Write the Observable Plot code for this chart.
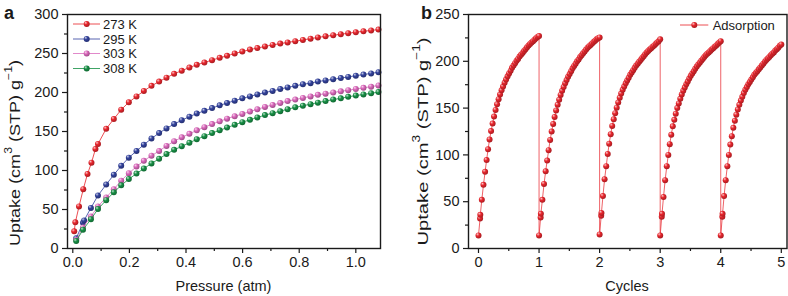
<!DOCTYPE html>
<html>
<head>
<meta charset="utf-8">
<script src="https://cdn.jsdelivr.net/npm/d3@7"></script>
<script src="https://cdn.jsdelivr.net/npm/@observablehq/plot@0.6"></script>
<style>
html, body { margin: 0; padding: 0; background: #fff; }
#fig { position: relative; width: 788px; height: 296px; overflow: hidden; }
#fig svg { position: absolute; top: 0; }
</style>
</head>
<body>
<div id="fig"></div>
<script>
// ---------------- Panel a: CO2 isotherms ----------------
const pressureGrid = [0.118, 0.145, 0.171, 0.198, 0.225, 0.251, 0.278, 0.305, 0.331, 0.358,
  0.385, 0.412, 0.438, 0.465, 0.492, 0.519, 0.545, 0.572, 0.599, 0.626,
  0.652, 0.679, 0.706, 0.733, 0.759, 0.786, 0.813, 0.840, 0.866, 0.893,
  0.920, 0.947, 0.973, 1.000, 1.027, 1.054, 1.080];

const pressureLow273 = [0.005, 0.009, 0.022, 0.037, 0.052, 0.066, 0.080, 0.089];
const uptake273 = [22, 33.5, 54, 76, 95.5, 110, 127.5, 134,
  153.5, 166, 178, 187.5, 195, 202, 208.5, 214,
  219, 224, 228, 232, 235.5, 238.5, 241.5, 244.5, 247, 250,
  252.5, 255, 257, 259, 261, 262.7, 264.2, 265.8, 267.4, 269,
  270.6, 272, 273.4, 274.7, 276, 277.3, 278.5, 279.6, 280.7];

const pressureLow295 = [0.012, 0.036, 0.040, 0.064, 0.089];
const uptake295 = [13, 33, 36, 52, 68,
  82, 94.5, 106, 116.5, 125, 133, 141, 148,
  154, 159.5, 164.5, 169, 173, 176.5, 180, 183.5, 186.5, 189.5,
  192.5, 195, 197.5, 200, 202, 204.5, 206.5, 208.5, 210.5, 212,
  214, 215.5, 217, 218.5, 220, 221.5, 223, 224.5, 226];

const pressureLow303 = [0.012, 0.036, 0.064, 0.089];
const uptake303 = [11, 27, 41, 54,
  65.5, 76, 87, 96.5, 105, 112.5, 119, 125,
  131.5, 137.5, 142.5, 147, 151.5, 155.5, 159.5, 163, 166.5, 169.5,
  172.5, 175.5, 178.5, 181.5, 184, 186.5, 189, 191, 193, 195,
  197, 198.5, 200, 201.5, 203, 204.5, 206, 207.5, 209];

const pressureLow308 = [0.012, 0.036, 0.064, 0.089];
const uptake308 = [9.5, 24, 37.5, 50.5,
  62, 72, 81, 89, 96, 102.5, 109, 115,
  121, 126.5, 131, 135.5, 140, 144, 148, 151.5, 155, 158.5,
  162, 165, 168, 171, 173.5, 176, 178.5, 181, 183, 185,
  187, 189, 191, 192.5, 194.5, 196, 197.5, 199, 200.5];

const seriesLabels = ["273 K", "295 K", "303 K", "308 K"];
const pressureTicks = [0, 0.2, 0.4, 0.6, 0.8, 1.0];
const pressureMinor = [0.1, 0.3, 0.5, 0.7, 0.9];
const uptakeTicksA = [0, 50, 100, 150, 200, 250, 300];
const uptakeMinorA = [25, 75, 125, 175, 225, 275];

// ---------------- Panel b: adsorption cycles ----------------
const cycleFraction = [0, 0.026, 0.030, 0.055, 0.082,
  0.109, 0.134, 0.158, 0.183, 0.208, 0.233, 0.257, 0.282, 0.307, 0.332,
  0.356, 0.381, 0.406, 0.431, 0.455, 0.480, 0.505, 0.530, 0.554, 0.579,
  0.604, 0.629, 0.653, 0.678, 0.703, 0.728, 0.752, 0.777, 0.802, 0.827,
  0.851, 0.876, 0.901, 0.926, 0.950, 0.975, 1.000];

const cycle1 = [14, 32, 36, 52, 68, 82, 94.5, 106, 116.5, 125.5,
  133.5, 141, 148, 154, 159.5, 164.5, 169, 173, 177, 180.5,
  184, 187, 190, 193, 195.5, 198, 200.5, 202.5, 205, 207,
  209, 211, 213, 215, 217, 218.5, 220, 221.5, 223, 224.5, 226, 227];
const cycle2 = [14, 33, 37, 52, 69, 82.5, 94, 105, 116, 125,
  133, 140.5, 147.5, 153.5, 159, 164, 168.5, 172.5, 176.5, 180,
  183.5, 186.5, 189.5, 192.5, 195, 197.5, 200, 202, 204.5, 206.5,
  208.5, 210.5, 212.5, 214.5, 216, 217.5, 219, 220.5, 222, 223.5, 224.5, 225.5];
const cycle3 = [15, 35, 38, 56, 74, 88, 101, 112, 122, 131,
  138, 144.5, 150.5, 156, 161, 165.5, 169.5, 173, 176.5, 179.5,
  182.5, 185.5, 188, 190.5, 193, 195.5, 197.5, 199.5, 201.5, 203.5,
  205.5, 207.5, 209.5, 211, 212.5, 214, 215.5, 217, 218.5, 220, 221.5, 223.5];
const cycle4 = [14, 34, 37, 55, 73, 88, 100, 111.5, 121.5, 130.5,
  137.5, 144, 150, 155, 160, 164.5, 168.5, 172, 175.5, 178.5,
  181.5, 184.5, 187, 189.5, 192, 194.5, 196.5, 198.5, 200.5, 202.5,
  204.5, 206.5, 208, 209.5, 211, 212.5, 214, 215.5, 217, 218.5, 220, 221.5];
const cycle5 = [14, 34, 37, 56, 73, 88, 100, 111, 120, 129,
  136.5, 143, 148.5, 153.5, 158, 162, 166, 169.5, 172.5, 175.5,
  178, 180.5, 183, 185.5, 187.5, 189.5, 191.5, 193.5, 195.5, 197.5,
  199.5, 201.5, 203, 204.5, 206.5, 208, 209.5, 211.5, 213, 214.5, 216.5, 218];

const cycleTicks = [0, 1, 2, 3, 4, 5];
const cycleMinor = [0.5, 1.5, 2.5, 3.5, 4.5];
const uptakeTicksB = [0, 50, 100, 150, 200, 250];
const uptakeMinorB = [25, 75, 125, 175, 225];
const legendB = "Adsorption";

// ---------------- styling ----------------
const FONT = '"Liberation Sans", Arial, Helvetica, sans-serif';
const INK = "#1a1a1a";
const COLORS = {r: "#e8262d", b: "#33429c", p: "#da68bb", g: "#178f45"};
const LINE_COLORS = {r: "#ea3a40", b: "#4554a8", p: "#de7cc4", g: "#2a9a55"};

function sphereDefs(prefix) {
  return () => {
    const defs = d3.create("svg:defs");
    for (const [k, c] of Object.entries(COLORS)) {
      const g = defs.append("radialGradient").attr("id", prefix + k)
        .attr("cx", "40%").attr("cy", "38%").attr("r", "62%")
        .attr("fx", "32%").attr("fy", "28%");
      g.append("stop").attr("offset", "0%").attr("stop-color", d3.interpolateRgb(c, "#ffffff")(0.75));
      g.append("stop").attr("offset", "45%").attr("stop-color", c);
      g.append("stop").attr("offset", "100%").attr("stop-color", d3.color(c).darker(0.9).formatHex());
    }
    return defs.node();
  };
}

function overlay(draw) {
  return (index, scales, values, dims) => {
    const g = d3.create("svg:g").attr("font-family", FONT).attr("fill", INK).attr("text-anchor", "start");
    draw(g, dims);
    return g.node();
  };
}

function uptakeTitle(g, cx, cy, size, len) {
  const t = g.append("text")
    .attr("transform", `translate(${cx},${cy}) rotate(-90)`)
    .attr("text-anchor", "middle").attr("dominant-baseline", "central")
    .attr("font-size", size);
  if (len) t.attr("textLength", len).attr("lengthAdjust", "spacingAndGlyphs");
  t.append("tspan").text("Uptake (cm");
  t.append("tspan").attr("baseline-shift", "super").attr("font-size", size * 0.68).text("3");
  t.append("tspan").text(" (STP) g");
  t.append("tspan").attr("baseline-shift", "super").attr("font-size", size * 0.68).text("\u22121");
  t.append("tspan").text(")");
}

function axesMarks(xt, xm, yt, ym, xfmt) {
  return [
    Plot.axisX(xt, {tickSize: 5, tickPadding: 3, tickFormat: xfmt, label: null, strokeWidth: 1.2, fontSize: 14.5}),
    Plot.axisX(xm, {tickSize: 3, tickFormat: () => "", label: null, strokeWidth: 1.2}),
    Plot.axisY(yt, {tickSize: 5, tickPadding: 4, label: null, strokeWidth: 1.2, fontSize: 14.5}),
    Plot.axisY(ym, {tickSize: 3, tickFormat: () => "", label: null, strokeWidth: 1.2})
  ];
}

// ---------------- panel a ----------------
const seriesA = [
  {key: "r", p: pressureLow273.concat(pressureGrid), u: uptake273},
  {key: "b", p: pressureLow295.concat(pressureGrid), u: uptake295},
  {key: "p", p: pressureLow303.concat(pressureGrid), u: uptake303},
  {key: "g", p: pressureLow308.concat(pressureGrid), u: uptake308}
];
const seriesMarksA = [];
for (const s of seriesA) {
  const data = s.p.map((x, i) => ({x, y: s.u[i]}));
  seriesMarksA.push(Plot.line(data, {x: "x", y: "y", stroke: LINE_COLORS[s.key], strokeWidth: 0.9}));
  seriesMarksA.push(Plot.dot(data, {x: "x", y: "y", r: 3, fill: `url(#A-${s.key})`}));
}

const plotA = Plot.plot({
  width: 394, height: 296,
  marginLeft: 67, marginRight: 14, marginTop: 14, marginBottom: 48,
  style: {fontFamily: FONT, fontSize: "14px", color: INK, background: "none", overflow: "visible"},
  x: {domain: [-0.0187, 1.0872], label: null},
  y: {domain: [0, 300], label: null},
  marks: [
    sphereDefs("A-"),
    ...axesMarks(pressureTicks, pressureMinor, uptakeTicksA, uptakeMinorA, d3.format(".1f")),
    ...seriesMarksA,
    Plot.frame({stroke: INK, strokeWidth: 1.4}),
    overlay((g, d) => {
      g.append("text").attr("x", 4).attr("y", 19).attr("font-size", 18).attr("font-weight", "bold").text("a");
      uptakeTitle(g, 14, 153, 15, 186);
      g.append("text").attr("x", 223.5).attr("y", 291).attr("text-anchor", "middle").attr("font-size", 14.5).text("Pressure (atm)");
      const rows = [24, 39, 53.5, 68.5];
      seriesA.forEach((s, i) => {
        g.append("line").attr("x1", 73).attr("x2", 100).attr("y1", rows[i]).attr("y2", rows[i])
          .attr("stroke", LINE_COLORS[s.key]).attr("stroke-width", 0.9);
        g.append("circle").attr("cx", 86.7).attr("cy", rows[i]).attr("r", 3).attr("fill", `url(#A-${s.key})`);
        g.append("text").attr("x", 103).attr("y", rows[i]).attr("dominant-baseline", "central")
          .attr("font-size", 13).text(seriesLabels[i]);
      });
    })
  ]
});

// ---------------- panel b ----------------
const cycles = [cycle1, cycle2, cycle3, cycle4, cycle5];
const dataB = [];
cycles.forEach((c, i) => cycleFraction.forEach((f, j) => dataB.push({x: i + f, y: c[j]})));

const plotB = Plot.plot({
  width: 394, height: 296,
  marginLeft: 74, marginRight: 1.5, marginTop: 14, marginBottom: 48,
  style: {fontFamily: FONT, fontSize: "14px", color: INK, background: "none", overflow: "visible"},
  x: {domain: [-0.165, 5.094], label: null},
  y: {domain: [0, 250], label: null},
  marks: [
    sphereDefs("B-"),
    ...axesMarks(cycleTicks, cycleMinor, uptakeTicksB, uptakeMinorB, d3.format("d")),
    Plot.line(dataB, {x: "x", y: "y", stroke: LINE_COLORS.r, strokeWidth: 0.8}),
    Plot.dot(dataB, {x: "x", y: "y", r: 3, fill: "url(#B-r)"}),
    Plot.frame({stroke: INK, strokeWidth: 1.4}),
    overlay((g, d) => {
      g.append("text").attr("x", 27).attr("y", 19).attr("font-size", 18).attr("font-weight", "bold").text("b");
      uptakeTitle(g, 27.5, 141.5, 15, 208);
      g.append("text").attr("x", 233).attr("y", 291).attr("text-anchor", "middle").attr("font-size", 14.5).text("Cycles");
      g.append("line").attr("x1", 286).attr("x2", 314.3).attr("y1", 25).attr("y2", 25)
        .attr("stroke", LINE_COLORS.r).attr("stroke-width", 0.9);
      g.append("circle").attr("cx", 300.3).attr("cy", 25).attr("r", 3).attr("fill", "url(#B-r)");
      g.append("text").attr("x", 318.7).attr("y", 25).attr("dominant-baseline", "central")
        .attr("font-size", 13).text(legendB);
    })
  ]
});

const fig = document.getElementById("fig");
plotA.style.left = "0px";
plotB.style.left = "394px";
fig.appendChild(plotA);
fig.appendChild(plotB);
</script>
</body>
</html>
